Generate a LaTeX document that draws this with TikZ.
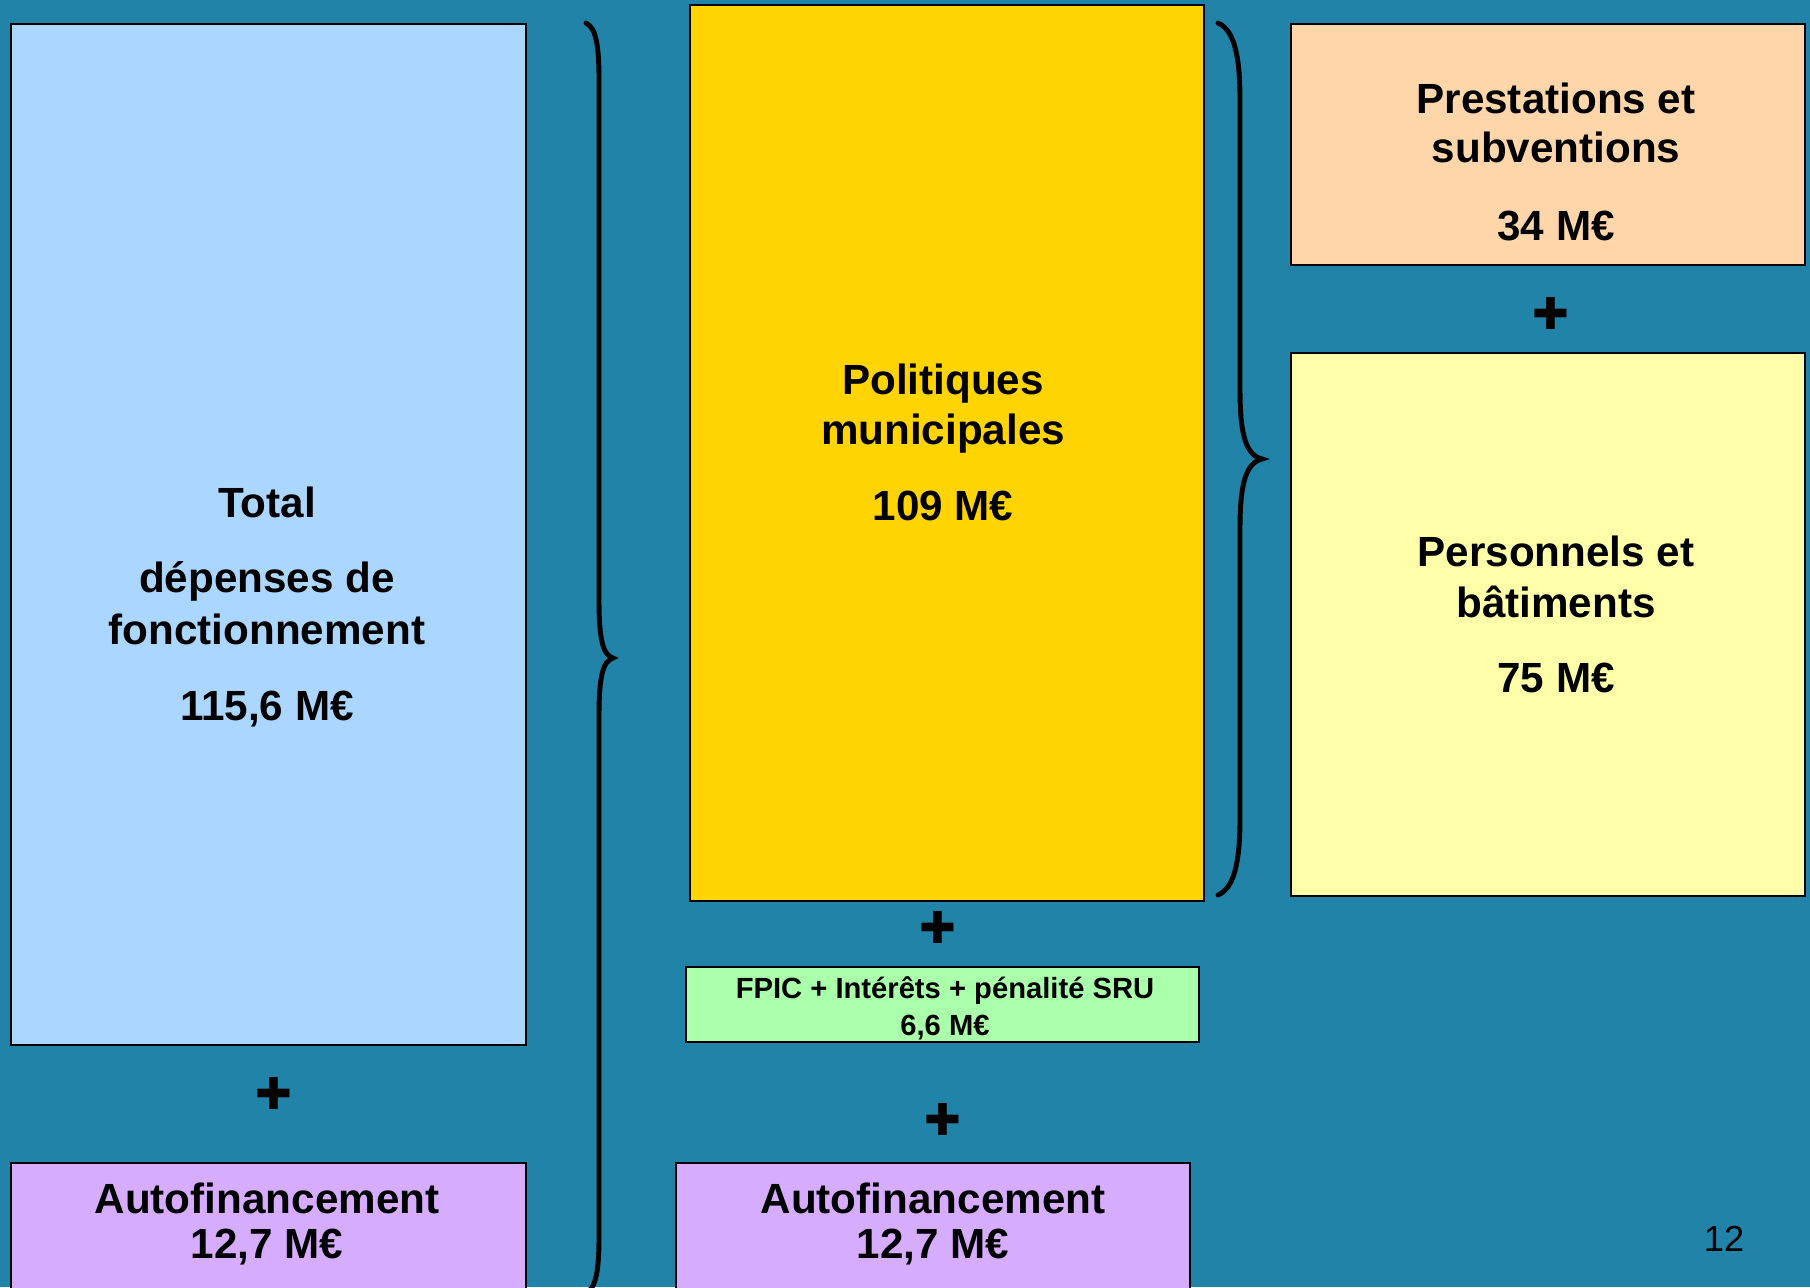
\documentclass[tikz,border=0pt]{standalone}
\usepackage{fontspec}
\setmainfont{Liberation Sans}
\newfontfamily\symboles{DejaVu Sans}

\definecolor{fond}{RGB}{33,131,168}
\definecolor{bleuclair}{RGB}{170,214,255}
\definecolor{or}{RGB}{255,212,0}
\definecolor{peche}{RGB}{255,214,170}
\definecolor{jaunepale}{RGB}{255,255,170}
\definecolor{vertpale}{RGB}{170,255,170}
\definecolor{mauve}{RGB}{214,172,255}

\tikzset{
  boite/.style={draw=black, line width=0.6pt, inner sep=0pt, anchor=north west},
  texte/.style={font=\fontsize{12}{14}\selectfont\bfseries, anchor=base, inner sep=0pt},
  petit/.style={font=\fontsize{8.3}{10}\selectfont\bfseries, anchor=base, inner sep=0pt},
  signeplus/.style={font=\symboles\fontsize{12.5}{12.5}\selectfont, inner sep=0pt},
  accolade/.style={line width=1.4pt, line cap=round}
}

\begin{document}
\begin{tikzpicture}[x=0.01cm, y=-0.01cm]
                  % Fond
                  \useasboundingbox (0,0) rectangle (1810,1287);
                  \fill[fond] (0,0) rectangle (1810,1287);
                  \clip (0,0) rectangle (1810,1287);

                  % Cases
                  \node[boite, fill=bleuclair, minimum width=5.15cm, minimum height=10.2cm] (total) at (10,23) {};
                  \node[boite, fill=mauve, minimum width=5.15cm, minimum height=1.4cm] (autog) at (10,1162) {};
                  \node[boite, fill=or, minimum width=5.14cm, minimum height=8.95cm] (politiques) at (689,4) {};
                  \node[boite, fill=vertpale, minimum width=5.13cm, minimum height=0.75cm] (fpic) at (685,966) {};
                  \node[boite, fill=mauve, minimum width=5.14cm, minimum height=1.4cm] (autod) at (675,1162) {};
                  \node[boite, fill=peche, minimum width=5.14cm, minimum height=2.41cm] (prestations) at (1290,23) {};
                  \node[boite, fill=jaunepale, minimum width=5.14cm, minimum height=5.43cm] (personnels) at (1290,352) {};

                  % Accolades
                  \coordinate (A1haut) at (586,23);
                  \coordinate (A1pointe) at (613,658);
                  \coordinate (A1bas) at (586,1293);
                  \coordinate (A2haut) at (1218,23);
                  \coordinate (A2pointe) at (1262,459);
                  \coordinate (A2bas) at (1218,895);
                  \draw[accolade] (A1haut) .. controls (596,28) and (599,45) .. (599,80) -- (599,600)
                      .. controls (599,640) and (603,655) .. (A1pointe)
                      .. controls (603,661) and (599,676) .. (599,716) -- (599,1236)
                      .. controls (599,1271) and (596,1288) .. (A1bas);
                  \draw[accolade] (A2haut) .. controls (1234,30) and (1240,55) .. (1240,100) -- (1240,390)
                      .. controls (1240,435) and (1246,455) .. (A2pointe)
                      .. controls (1246,463) and (1240,483) .. (1240,528) -- (1240,818)
                      .. controls (1240,863) and (1234,888) .. (A2bas);

                  % Textes
                  \begin{scope}[texte]
                      \node (total1) at (267,517) {Total};
                      \node (total2) at (267,592) {dépenses de};
                      \node (total3) at (267,644) {fonctionnement};
                      \node (total4) at (267,720) {115,6 M€};
                      \node (pol1) at (943,394) {Politiques};
                      \node (pol2) at (943,444) {municipales};
                      \node (pol3) at (943,520) {109 M€};
                      \node (pre1) at (1556,113) {Prestations et};
                      \node (pre2) at (1556,162) {subventions};
                      \node (pre3) at (1556,240) {34 M€};
                      \node (per1) at (1556,566) {Personnels et};
                      \node (per2) at (1556,617) {bâtiments};
                      \node (per3) at (1556,692) {75 M€};
                      \node (autog1) at (267,1213) {Autofinancement};
                      \node (autog2) at (267,1258) {12,7 M€};
                      \node (autod1) at (933,1213) {Autofinancement};
                      \node (autod2) at (933,1258) {12,7 M€};
                  \end{scope}
                  \begin{scope}[petit]
                      \node (fpic1) at (945,998) {FPIC + Intérêts + pénalité SRU};
                      \node (fpic2) at (945,1035) {6,6 M€};
                  \end{scope}
                  \node[font=\fontsize{10.3}{12}\selectfont, anchor=base, inner sep=0pt] (page) at (1724,1251) {12};

                  % Signes
                  \begin{scope}[signeplus]
                      \node (plusg) at (274,1093) {✚};
                      \node (plush) at (938,927) {✚};
                      \node (plusb) at (943,1119) {✚};
                      \node (plusd) at (1551,313) {✚};
                  \end{scope}
\end{tikzpicture}
\end{document}
